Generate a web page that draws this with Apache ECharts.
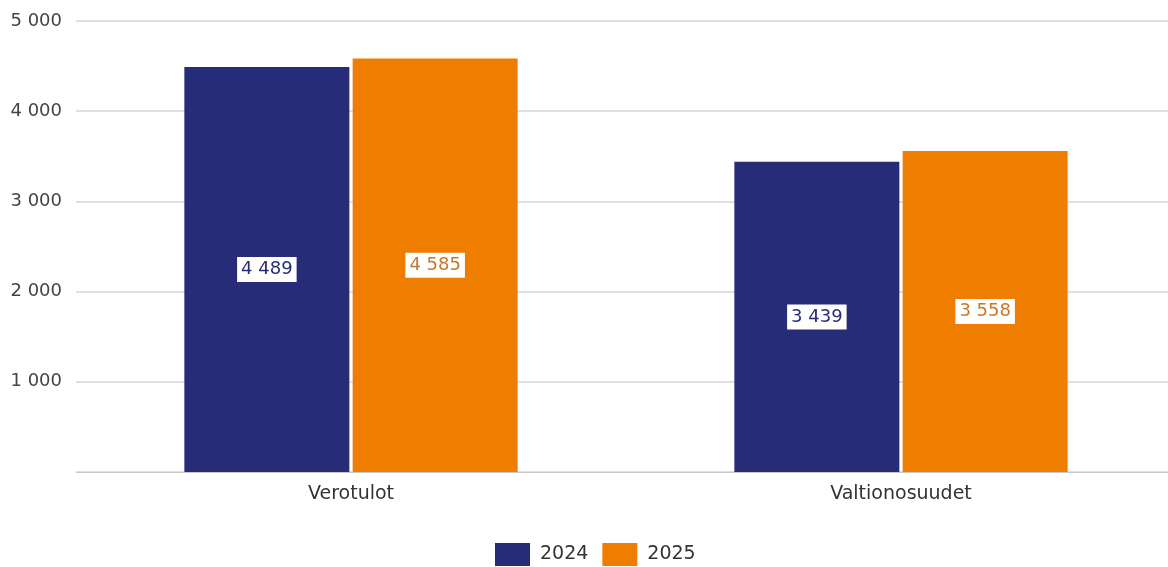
<!DOCTYPE html>
<html>
<head>
<meta charset="utf-8">
<script src="https://cdn.jsdelivr.net/npm/echarts@6/dist/echarts.min.js"></script>
<style>
  html, body { margin: 0; padding: 0; background: #fff; }
  #chart { width: 1168px; height: 567px; }
</style>
</head>
<body>
<div id="chart"></div>
<script>
  // data (milj. €)
  var categories = ['Verotulot', 'Valtionosuudet'];
  var years = ['2024', '2025'];
  var values2024 = [4489, 3439];
  var values2025 = [4585, 3558];
  var colors = ['#272c79', '#ef7d00'];

  function fmt(v) {
    return String(v).replace(/\B(?=(\d{3})+(?!\d))/g, ' ');
  }

  var myChart = echarts.init(document.getElementById('chart'));

  function barSeries(name, data, color, textColor) {
    return {
      name: name,
      type: 'bar',
      data: data,
      barWidth: 165,
      barGap: '2%',
      itemStyle: { color: color },
      label: {
        show: true,
        position: 'inside',
        color: textColor,
        fontFamily: 'DejaVu Sans',
        fontSize: 18,
        backgroundColor: '#fff',
        borderColor: color,
        borderWidth: 1,
        padding: [4, 4, 3, 4],
        formatter: function (p) { return fmt(p.value); }
      }
    };
  }

  var option = {
    animation: false,
    color: colors,
    textStyle: { fontFamily: 'DejaVu Sans' },
    grid: {
      left: 76, width: 1100, top: 21, bottom: 95,
      containLabel: false, outerBoundsMode: 'none'
    },
    legend: {
      top: 538,
      left: 490,
      itemWidth: 35,
      itemHeight: 23,
      itemGap: 14,
      icon: 'rect',
      textStyle: {
        color: '#333', fontSize: 19, fontFamily: 'DejaVu Sans',
        padding: [0, 0, 0, 5]
      },
      data: years
    },
    xAxis: {
      type: 'category',
      data: categories,
      axisTick: { show: false },
      axisLine: { lineStyle: { color: '#c8c8c8', width: 1 } },
      axisLabel: { color: '#333', fontSize: 19, margin: 13 }
    },
    yAxis: {
      type: 'value',
      min: 0,
      max: 5000,
      interval: 1000,
      axisLine: { show: false },
      axisTick: { show: false },
      splitLine: { lineStyle: { color: '#d4d4d4', width: 1.5 } },
      axisLabel: {
        color: '#444',
        fontSize: 18,
        margin: 14,
        formatter: function (v) { return v === 0 ? '' : fmt(v); }
      }
    },
    series: [
      barSeries(years[0], values2024, colors[0], '#272c79'),
      barSeries(years[1], values2025, colors[1], '#c8772a')
    ]
  };

  myChart.setOption(option);
  window.onresize = function () { myChart.resize(); };
</script>
</body>
</html>
